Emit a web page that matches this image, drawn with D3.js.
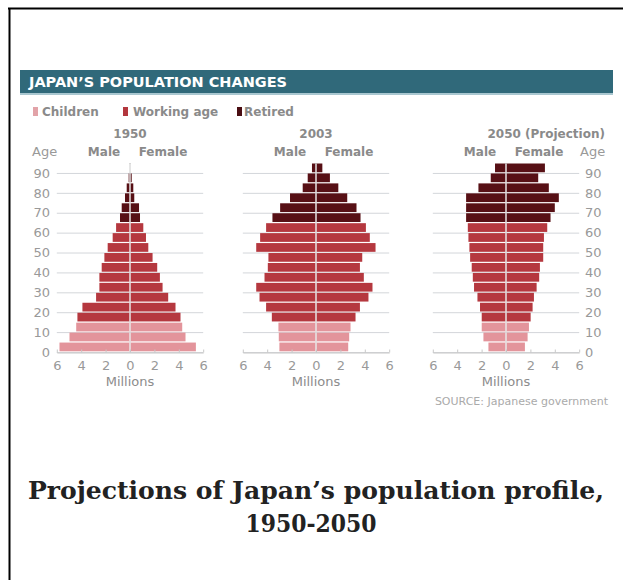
<!DOCTYPE html>
<html><head><meta charset="utf-8">
<script src="https://cdn.jsdelivr.net/npm/d3@7"></script>
<style>html,body{margin:0;padding:0;background:#fff;} svg{display:block;}</style>
</head><body>
<svg id="c" width="623" height="580"></svg>
<script>
// ---- data ----
const ageGroups = ["0-4","5-9","10-14","15-19","20-24","25-29","30-34","35-39","40-44","45-49",
                   "50-54","55-59","60-64","65-69","70-74","75-79","80-84","85-89","90+"];
const ageGroupStart = [0,5,10,15,20,25,30,35,40,45,50,55,60,65,70,75,80,85,90];
const ageGroupCategory = ["Children","Children","Children",
  "Working age","Working age","Working age","Working age","Working age","Working age","Working age",
  "Working age","Working age","Working age",
  "Retired","Retired","Retired","Retired","Retired","Retired"];
const categories = ["Children","Working age","Retired"];
const panelTitles = ["1950","2003","2050 (Projection)"];

const male1950   = [5.78,4.96,4.41,4.31,3.90,2.78,2.51,2.51,2.32,2.10,1.83,1.42,1.14,0.82,0.68,0.41,0.27,0.11,0.02];
const female1950 = [5.40,4.55,4.28,4.14,3.73,3.13,2.67,2.45,2.23,1.85,1.50,1.31,1.09,0.82,0.74,0.35,0.27,0.14,0.03];
const male2003   = [3.00,3.05,3.08,3.62,4.09,4.63,4.90,4.22,3.95,3.90,4.90,4.58,4.09,3.57,2.94,2.13,1.09,0.68,0.33];
const female2003 = [2.64,2.72,2.83,3.24,3.60,4.30,4.63,3.92,3.60,3.79,4.88,4.41,4.09,3.65,3.32,2.56,1.83,1.14,0.52];
const male2050   = [1.44,1.85,1.99,1.99,2.13,2.34,2.62,2.72,2.81,2.94,3.00,3.08,3.13,3.27,3.27,3.27,2.26,1.25,0.90];
const female2050 = [1.55,1.77,1.88,2.02,2.18,2.29,2.51,2.72,2.78,3.05,3.05,3.11,3.38,3.65,4.00,4.33,3.51,2.64,3.19];

const xTicks = [-6,-4,-2,0,2,4,6];
const ageTicks = [0,10,20,30,40,50,60,70,80,90];

// ---- drawing ----
const svg = d3.select("#c");
const sans = "'DejaVu Sans', Verdana, sans-serif";

// frame
svg.append("line").attr("x1",8).attr("x2",623).attr("y1",8.5).attr("y2",8.5).attr("stroke","#000").attr("stroke-width",2);
svg.append("line").attr("x1",9.5).attr("x2",9.5).attr("y1",8).attr("y2",580).attr("stroke","#000").attr("stroke-width",2);

// header bar
svg.append("rect").attr("x",20).attr("y",70).attr("width",593).attr("height",23).attr("fill","#30697a");
svg.append("rect").attr("x",20).attr("y",93).attr("width",593).attr("height",2).attr("fill","#a9c7d0");
svg.append("text").attr("x",29).attr("y",87).attr("fill","#fff")
  .attr("font-family",sans).attr("font-weight","bold").attr("font-size",14)
  .attr("textLength",258).attr("lengthAdjust","spacingAndGlyphs")
  .text("JAPAN\u2019S POPULATION CHANGES");

const color = d3.scaleOrdinal(categories, ["#e3949b","#b5383f","#571015"]);
const legendColor = d3.scaleOrdinal(categories, ["#e2a3a8","#b3373e","#4a0e13"]);

// legend
const legendX = [[33,42],[123,133],[237,244]];
categories.forEach((c,i)=>{
  svg.append("rect").attr("x",legendX[i][0]).attr("y",107).attr("width",5).attr("height",9).attr("fill",legendColor(c));
  svg.append("text").attr("x",legendX[i][1]).attr("y",116).attr("fill","#8a8a8a")
    .attr("font-family",sans).attr("font-weight","bold").attr("font-size",12).text(c);
});

// y scale (ages)
const y = d3.scaleLinear().domain([0,95]).range([352,163]);

const panels = [
  {title:panelTitles[0], male:male1950, female:female1950, cx:130, ageSide:"left"},
  {title:panelTitles[1], male:male2003, female:female2003, cx:316, ageSide:"none"},
  {title:panelTitles[2], male:male2050, female:female2050, cx:506, ageSide:"right"}
];

panels.forEach((p,pi)=>{
  const g = svg.append("g");
  const x = d3.scaleLinear().domain([-6,6]).range([p.cx-73.2, p.cx+73.2]);

  // grid lines
  g.selectAll("line.grid").data(ageTicks).join("line")
    .attr("x1",x(-6)).attr("x2",x(6))
    .attr("y1",d=>y(d)+0.5).attr("y2",d=>y(d)+0.5)
    .attr("stroke","#d3d6da").attr("stroke-width",1);

  // center line behind
  g.append("line").attr("x1",x(0)).attr("x2",x(0)).attr("y1",y(95)).attr("y2",y(0))
    .attr("stroke","#b0b0b0").attr("stroke-width",1);

  const rows = ageGroups.map((a,i)=>({age:ageGroupStart[i], cat:ageGroupCategory[i], m:p.male[i], f:p.female[i]}));
  // male bars
  g.selectAll("rect.m").data(rows).join("rect")
    .attr("x",d=>x(-d.m)).attr("width",d=>x(0)-x(-d.m)-0.6)
    .attr("y",d=>y(d.age+5)+0.5).attr("height",d=>y(d.age)-y(d.age+5)-1.2)
    .attr("fill",d=>color(d.cat));
  // female bars
  g.selectAll("rect.f").data(rows).join("rect")
    .attr("x",d=>x(0)+0.6).attr("width",d=>x(d.f)-x(0)-0.6)
    .attr("y",d=>y(d.age+5)+0.5).attr("height",d=>y(d.age)-y(d.age+5)-1.2)
    .attr("fill",d=>color(d.cat));

  // center white line over bars
  g.append("line").attr("x1",x(0)).attr("x2",x(0)).attr("y1",y(95)+1).attr("y2",y(0))
    .attr("stroke","#fff").attr("stroke-opacity",0.55).attr("stroke-width",1.2);

  // x axis
  const ax = g.append("g").attr("transform",`translate(0,${y(0)+0.5})`)
    .call(d3.axisBottom(x).tickValues(xTicks).tickFormat(d=>Math.abs(d)).tickSizeInner(-3).tickSizeOuter(0).tickPadding(8));
  ax.select(".domain").attr("stroke","#c8c8c8");
  ax.selectAll(".tick line").attr("stroke","#c8c8c8");
  ax.selectAll("text").attr("fill","#999").attr("font-family",sans).attr("font-size",13);

  g.append("text").attr("x",x(0)).attr("y",386).attr("text-anchor","middle").attr("fill","#8c8c8c")
    .attr("font-family",sans).attr("font-size",13).text("Millions");

  // titles
  if (pi < 2) {
    g.append("text").attr("x",x(0)).attr("y",138).attr("text-anchor","middle").attr("fill","#8a8a8a")
      .attr("font-family",sans).attr("font-weight","bold").attr("font-size",12).text(p.title);
  } else {
    g.append("text").attr("x",605).attr("y",138).attr("text-anchor","end").attr("fill","#8a8a8a")
      .attr("font-family",sans).attr("font-weight","bold").attr("font-size",12).text(p.title);
  }
  g.append("text").attr("x",x(0)-26).attr("y",156).attr("text-anchor","middle").attr("fill","#8a8a8a")
    .attr("font-family",sans).attr("font-weight","bold").attr("font-size",12).text("Male");
  g.append("text").attr("x",x(0)+33).attr("y",156).attr("text-anchor","middle").attr("fill","#8a8a8a")
    .attr("font-family",sans).attr("font-weight","bold").attr("font-size",12).text("Female");

  // age labels
  if (p.ageSide !== "none") {
    const left = p.ageSide === "left";
    g.selectAll("text.age").data(ageTicks).join("text")
      .attr("x", left ? 50 : 585).attr("y",d=>y(d)).attr("dy","0.36em")
      .attr("text-anchor", left ? "end" : "start").attr("fill","#999")
      .attr("font-family",sans).attr("font-size",13).text(d=>d);
    g.append("text").attr("x", left ? 32 : 580).attr("y",156).attr("fill","#999")
      .attr("font-family",sans).attr("font-size",13).text("Age");
  }
});

// source
svg.append("text").attr("x",608).attr("y",405).attr("text-anchor","end").attr("fill","#aaa")
  .attr("font-family",sans).attr("font-size",11).text("SOURCE: Japanese government");

// main title
const serif = "'DejaVu Serif', 'Liberation Serif', serif";
svg.append("text").attr("x",316).attr("y",499).attr("text-anchor","middle").attr("fill","#222")
  .attr("font-family",serif).attr("font-weight","bold").attr("font-size",24)
  .attr("textLength",576).attr("lengthAdjust","spacingAndGlyphs")
  .text("Projections of Japan\u2019s population profile,");
svg.append("text").attr("x",311).attr("y",532).attr("text-anchor","middle").attr("fill","#222")
  .attr("font-family",serif).attr("font-weight","bold").attr("font-size",24)
  .attr("textLength",131).attr("lengthAdjust","spacingAndGlyphs")
  .text("1950-2050");
</script>
</body></html>
